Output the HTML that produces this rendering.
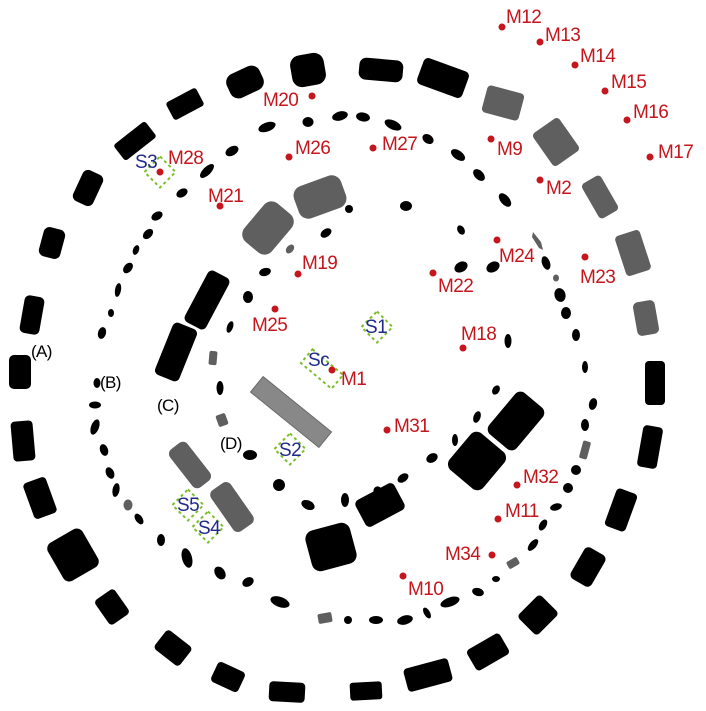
<!DOCTYPE html>
<html><head><meta charset="utf-8"><style>
html,body{margin:0;padding:0;background:#fff;}
svg{display:block}
text{font-family:"Liberation Sans",sans-serif;font-size:19px;letter-spacing:-0.6px}
.r{fill:#c4161c}.b{fill:#1f2a8a}.k{fill:#000}
.d{fill:none;stroke:#7cbf2a;stroke-width:2;stroke-dasharray:3 3}
</style></head><body>
<svg width="706" height="711" viewBox="0 0 706 711" xmlns="http://www.w3.org/2000/svg">
<!-- Ring A -->
<g fill="#000">
<rect x="-17" y="-16" width="34" height="32" rx="10" transform="translate(308,70) rotate(-10)"/>
<rect x="-18" y="-13" width="36" height="26" rx="9" transform="translate(245,82) rotate(-25)"/>
<rect x="-17" y="-10" width="34" height="20" rx="3" transform="translate(185,104) rotate(-28)"/>
<rect x="-20" y="-10" width="40" height="20" rx="3" transform="translate(135,141) rotate(-38)"/>
<rect x="-11" y="-17" width="22" height="34" rx="6" transform="translate(88,188) rotate(25)"/>
<rect x="-11" y="-15" width="22" height="30" rx="6" transform="translate(52,243) rotate(15)"/>
<rect x="-10" y="-19" width="20" height="38" rx="5" transform="translate(32,315) rotate(10)"/>
<rect x="-11" y="-17" width="22" height="34" rx="5" transform="translate(20,372) rotate(0)"/>
<rect x="-11" y="-20" width="22" height="40" rx="4" transform="translate(23,441) rotate(-5)"/>
<rect x="-12" y="-19" width="24" height="38" rx="4" transform="translate(40,498) rotate(-20)"/>
<rect x="-20" y="-22" width="40" height="44" rx="7" transform="translate(73,555) rotate(-30)"/>
<rect x="-12" y="-15" width="24" height="30" rx="4" transform="translate(112,607) rotate(-35)"/>
<rect x="-16" y="-12" width="32" height="24" rx="4" transform="translate(173,648) rotate(38)"/>
<rect x="-15" y="-11" width="30" height="22" rx="4" transform="translate(228,677) rotate(25)"/>
<rect x="-18" y="-10" width="36" height="20" rx="4" transform="translate(287,692) rotate(3)"/>
<rect x="-16" y="-9" width="32" height="18" rx="3" transform="translate(366,691) rotate(-3)"/>
<rect x="-23" y="-12" width="46" height="24" rx="4" transform="translate(428,675) rotate(-15)"/>
<rect x="-19" y="-12" width="38" height="24" rx="4" transform="translate(488,652) rotate(-30)"/>
<rect x="-16" y="-14" width="32" height="28" rx="4" transform="translate(538,615) rotate(-45)"/>
<rect x="-12" y="-18" width="24" height="36" rx="5" transform="translate(588,567) rotate(30)"/>
<rect x="-11" y="-20" width="22" height="40" rx="4" transform="translate(621,510) rotate(20)"/>
<rect x="-10" y="-21" width="20" height="42" rx="4" transform="translate(650,447) rotate(10)"/>
<rect x="-10" y="-22" width="20" height="44" rx="4" transform="translate(655,383) rotate(0)"/>
<rect x="-24" y="-14" width="48" height="28" rx="5" transform="translate(443,78) rotate(20)"/>
<rect x="-22" y="-11" width="44" height="22" rx="7" transform="translate(381,70) rotate(5)"/>
</g>
<g fill="#5f5f5f">
<rect x="-11" y="-17" width="22" height="34" rx="5" transform="translate(646,318) rotate(-10)"/>
<rect x="-13" y="-21" width="26" height="42" rx="4" transform="translate(633,253) rotate(-18)"/>
<rect x="-11" y="-20" width="22" height="40" rx="4" transform="translate(600,197) rotate(-30)"/>
<rect x="-16" y="-20" width="32" height="40" rx="4" transform="translate(556,142) rotate(-35)"/>
<rect x="-19" y="-14" width="38" height="28" rx="4" transform="translate(503,103) rotate(15)"/>
</g>
<!-- Ring B -->
<g fill="#000">
<ellipse cx="267" cy="127" rx="9" ry="4.5" transform="rotate(-20 267 127)"/>
<ellipse cx="308" cy="122" rx="5.5" ry="5"/>
<ellipse cx="340" cy="116" rx="8" ry="4.5" transform="rotate(-15 340 116)"/>
<ellipse cx="363" cy="117" rx="7" ry="4.5" transform="rotate(10 363 117)"/>
<ellipse cx="393" cy="125" rx="9" ry="4.5" transform="rotate(25 393 125)"/>
<ellipse cx="428" cy="139" rx="6" ry="4.5" transform="rotate(35 428 139)"/>
<ellipse cx="458" cy="155" rx="8" ry="4.5" transform="rotate(35 458 155)"/>
<ellipse cx="479" cy="175" rx="7" ry="4.5" transform="rotate(45 479 175)"/>
<ellipse cx="505" cy="200" rx="8" ry="4.5" transform="rotate(50 505 200)"/>
<ellipse cx="546" cy="263" rx="4" ry="7" transform="rotate(-20 546 263)"/>
<ellipse cx="560" cy="295" rx="5.5" ry="7" transform="rotate(-15 560 295)"/>
<ellipse cx="566" cy="313" rx="5" ry="6" />
<ellipse cx="576" cy="335" rx="4" ry="6"/>
<ellipse cx="585" cy="367" rx="3" ry="6"/>
<ellipse cx="593" cy="404" rx="4" ry="6" transform="rotate(15 593 404)"/>
<ellipse cx="585" cy="425" rx="4" ry="6"/>
<ellipse cx="576" cy="470" rx="5" ry="5"/>
<ellipse cx="568" cy="488" rx="5" ry="5"/>
<ellipse cx="556" cy="507" rx="6" ry="3.5" transform="rotate(-15 556 507)"/>
<ellipse cx="543" cy="525" rx="3.5" ry="6" transform="rotate(30 543 525)"/>
<ellipse cx="533" cy="545" rx="3.5" ry="7" transform="rotate(40 533 545)"/>
<ellipse cx="496" cy="579" rx="4" ry="3"/>
<ellipse cx="478" cy="592" rx="6" ry="4" transform="rotate(15 478 592)"/>
<ellipse cx="450" cy="602" rx="10" ry="4.5" transform="rotate(-20 450 602)"/>
<ellipse cx="427" cy="613" rx="3" ry="6" transform="rotate(-30 427 613)"/>
<ellipse cx="405" cy="620" rx="8" ry="4.5" transform="rotate(-15 405 620)"/>
<ellipse cx="376" cy="620" rx="7" ry="4"/>
<ellipse cx="348" cy="620" rx="4" ry="4"/>
<ellipse cx="280" cy="602" rx="10" ry="5" transform="rotate(20 280 602)"/>
<ellipse cx="248" cy="582" rx="6" ry="4.5" transform="rotate(-30 248 582)"/>
<ellipse cx="220" cy="573" rx="5" ry="7" transform="rotate(-35 220 573)"/>
<ellipse cx="187" cy="558" rx="5" ry="10" transform="rotate(-15 187 558)"/>
<ellipse cx="161" cy="540" rx="4" ry="6"/>
<ellipse cx="139" cy="519" rx="3.5" ry="6" transform="rotate(-35 139 519)"/>
<ellipse cx="116" cy="490" rx="3.5" ry="7" transform="rotate(10 116 490)"/>
<ellipse cx="110" cy="473" rx="4" ry="6" transform="rotate(-25 110 473)"/>
<ellipse cx="104" cy="450" rx="4" ry="6" transform="rotate(-20 104 450)"/>
<ellipse cx="95" cy="427" rx="4" ry="8" transform="rotate(20 95 427)"/>
<ellipse cx="95" cy="405" rx="6" ry="3.5"/>
<ellipse cx="97" cy="383" rx="3.5" ry="5"/>
<ellipse cx="102" cy="333" rx="4" ry="6" transform="rotate(15 102 333)"/>
<ellipse cx="111" cy="313" rx="3" ry="4"/>
<ellipse cx="118" cy="290" rx="3" ry="7" transform="rotate(10 118 290)"/>
<ellipse cx="128" cy="268" rx="4" ry="6" transform="rotate(40 128 268)"/>
<ellipse cx="136" cy="250" rx="3" ry="5" transform="rotate(20 136 250)"/>
<ellipse cx="148" cy="234" rx="4" ry="6" transform="rotate(45 148 234)"/>
<ellipse cx="157" cy="216" rx="6" ry="4" transform="rotate(-30 157 216)"/>
<ellipse cx="182" cy="193" rx="6" ry="4" transform="rotate(-30 182 193)"/>
<ellipse cx="207" cy="171" rx="4" ry="9" transform="rotate(45 207 171)"/>
<ellipse cx="232" cy="151" rx="7" ry="4.5" transform="rotate(-30 232 151)"/>
</g>
<g fill="#5f5f5f">
<path d="M533 232 L541 242 L543 250 L539 248 L532 237Z"/>
<rect x="-4" y="-9" width="8" height="18" rx="2" transform="translate(585,450) rotate(15)"/>
<rect x="-6" y="-4" width="12" height="8" rx="2" transform="translate(513,563) rotate(-30)"/>
<rect x="-7" y="-5" width="14" height="10" rx="2" transform="translate(325,618) rotate(-10)"/>
<ellipse cx="128" cy="505" rx="4.5" ry="5.5"/>
<ellipse cx="556" cy="278" rx="3" ry="3.5"/>
</g>
<!-- Ring D -->
<g fill="#000">
<ellipse cx="349" cy="209" rx="4" ry="4"/>
<ellipse cx="406" cy="206" rx="6" ry="5"/>
<ellipse cx="461" cy="230" rx="3.5" ry="5" transform="rotate(-30 461 230)"/>
<ellipse cx="461" cy="267" rx="7" ry="5" transform="rotate(-30 461 267)"/>
<ellipse cx="493" cy="267" rx="7" ry="5" transform="rotate(-30 493 267)"/>
<ellipse cx="508" cy="341" rx="3.5" ry="7"/>
<ellipse cx="326" cy="233" rx="6" ry="4" transform="rotate(-35 326 233)"/>
<ellipse cx="265" cy="272" rx="6" ry="4" transform="rotate(-15 265 272)"/>
<ellipse cx="248" cy="297" rx="5" ry="6"/>
<ellipse cx="230" cy="327" rx="3" ry="6" transform="rotate(20 230 327)"/>
<ellipse cx="220" cy="388" rx="3.5" ry="7"/>
<ellipse cx="250" cy="455" rx="7" ry="5"/>
<ellipse cx="279" cy="485" rx="6" ry="6"/>
<ellipse cx="308" cy="505" rx="7" ry="4.5" transform="rotate(25 308 505)"/>
<ellipse cx="345" cy="500" rx="4" ry="7"/>
<ellipse cx="379" cy="493" rx="5" ry="7" transform="rotate(-30 379 493)"/>
<ellipse cx="403" cy="478" rx="6" ry="4" transform="rotate(-35 403 478)"/>
<ellipse cx="432" cy="458" rx="6" ry="4.5" transform="rotate(-30 432 458)"/>
<ellipse cx="455" cy="440" rx="3" ry="6"/>
<ellipse cx="477" cy="417" rx="3.5" ry="6" transform="rotate(20 477 417)"/>
<ellipse cx="496" cy="390" rx="3.5" ry="5" transform="rotate(30 496 390)"/>
</g>
<g fill="#5f5f5f">
<ellipse cx="290" cy="249" rx="3.5" ry="5" transform="rotate(40 290 249)"/>
<rect x="-4" y="-7" width="8" height="14" rx="2" transform="translate(213,358) rotate(5)"/>
<rect x="-5" y="-6" width="10" height="12" rx="2" transform="translate(222,420) rotate(-20)"/>
</g>
<!-- Ring C -->
<g fill="#5f5f5f">
<rect x="-25" y="-17" width="50" height="34" rx="10" transform="translate(320,197) rotate(-20)"/>
<rect x="-18" y="-25" width="36" height="50" rx="10" transform="translate(268,228) rotate(40)"/>
<rect x="-11" y="-24" width="22" height="48" rx="6" transform="translate(190,465) rotate(-38)"/>
<rect x="-12" y="-25" width="24" height="50" rx="6" transform="translate(232,507) rotate(-35)"/>
</g>
<g fill="#000">
<rect x="-12" y="-29" width="24" height="58" rx="5" transform="translate(207,300) rotate(28)"/>
<rect x="-13" y="-28" width="26" height="56" rx="5" transform="translate(176,352) rotate(22)"/>
<rect x="-22" y="-15" width="44" height="30" rx="5" transform="translate(380,505) rotate(-28)"/>
<rect x="-23" y="-21" width="46" height="42" rx="9" transform="translate(331,547) rotate(-15)"/>
<rect x="-22" y="-24" width="44" height="48" rx="8" transform="translate(477,461) rotate(40)"/>
<rect x="-18" y="-27" width="36" height="54" rx="7" transform="translate(516,421) rotate(40)"/>
</g>
<!-- central bar -->
<rect x="-44" y="-10" width="88" height="20" fill="#888" stroke="#6a6a6a" stroke-width="1" transform="translate(291,412) rotate(39)"/>
<!-- diamonds -->
<rect class="d" x="-11" y="-11" width="22" height="22" transform="translate(160,172) rotate(45)"/>
<rect class="d" x="-11" y="-11" width="22" height="22" transform="translate(377,327) rotate(45)"/>
<rect class="d" x="-11" y="-11" width="22" height="22" transform="translate(290,449) rotate(45)"/>
<rect class="d" x="-11" y="-11" width="22" height="22" transform="translate(188,505) rotate(45)"/>
<rect class="d" x="-11" y="-11" width="22" height="22" transform="translate(208,527) rotate(45)"/>
<rect class="d" x="-20" y="-9" width="40" height="18" transform="translate(322,369) rotate(40)"/>
<!-- dots -->
<g class="r">
<circle cx="502" cy="27" r="3.5"/><circle cx="540" cy="42" r="3.5"/><circle cx="575" cy="65" r="3.5"/>
<circle cx="605" cy="91" r="3.5"/><circle cx="627" cy="120" r="3.5"/><circle cx="650" cy="157" r="3.5"/>
<circle cx="312" cy="96" r="3.5"/><circle cx="289" cy="157" r="3.5"/><circle cx="373" cy="148" r="3.5"/>
<circle cx="491" cy="139" r="3.5"/><circle cx="160" cy="172" r="3.5"/><circle cx="220" cy="206" r="3.5"/>
<circle cx="540" cy="180" r="3.5"/><circle cx="497" cy="240" r="3.5"/><circle cx="585" cy="257" r="3.5"/>
<circle cx="433" cy="273" r="3.5"/><circle cx="298" cy="274" r="3.5"/><circle cx="275" cy="309" r="3.5"/>
<circle cx="463" cy="348" r="3.5"/><circle cx="332" cy="370" r="3.5"/><circle cx="387" cy="430" r="3.5"/>
<circle cx="517" cy="485" r="3.5"/><circle cx="498" cy="519" r="3.5"/><circle cx="492" cy="555" r="3.5"/>
<circle cx="403" cy="576" r="3.5"/>
</g>
<!-- labels -->
<g class="r">
<text x="506" y="23">M12</text><text x="545" y="41">M13</text><text x="580" y="62">M14</text>
<text x="611" y="88">M15</text><text x="633" y="118">M16</text><text x="658" y="158">M17</text>
<text x="263" y="106">M20</text><text x="295" y="154">M26</text><text x="382" y="150">M27</text>
<text x="497" y="155">M9</text><text x="168" y="164">M28</text><text x="208" y="202">M21</text>
<text x="546" y="194">M2</text><text x="499" y="262">M24</text><text x="580" y="283">M23</text>
<text x="438" y="292">M22</text><text x="302" y="269">M19</text><text x="252" y="331">M25</text>
<text x="461" y="340">M18</text><text x="341" y="385">M1</text><text x="394" y="432">M31</text>
<text x="523" y="483">M32</text><text x="505" y="517">M11</text><text x="445" y="560">M34</text>
<text x="408" y="595">M10</text>
</g>
<g class="b">
<text x="135" y="168">S3</text><text x="365" y="333">S1</text><text x="308" y="366">Sc</text>
<text x="279" y="456">S2</text><text x="177" y="511">S5</text><text x="198" y="534">S4</text>
</g>
<g class="k" style="font-size:17px">
<text x="31" y="357" style="font-size:17px">(A)</text><text x="100" y="388" style="font-size:17px">(B)</text>
<text x="157" y="411" style="font-size:17px">(C)</text><text x="220" y="449" style="font-size:17px">(D)</text>
</g>
</svg>
</body></html>
